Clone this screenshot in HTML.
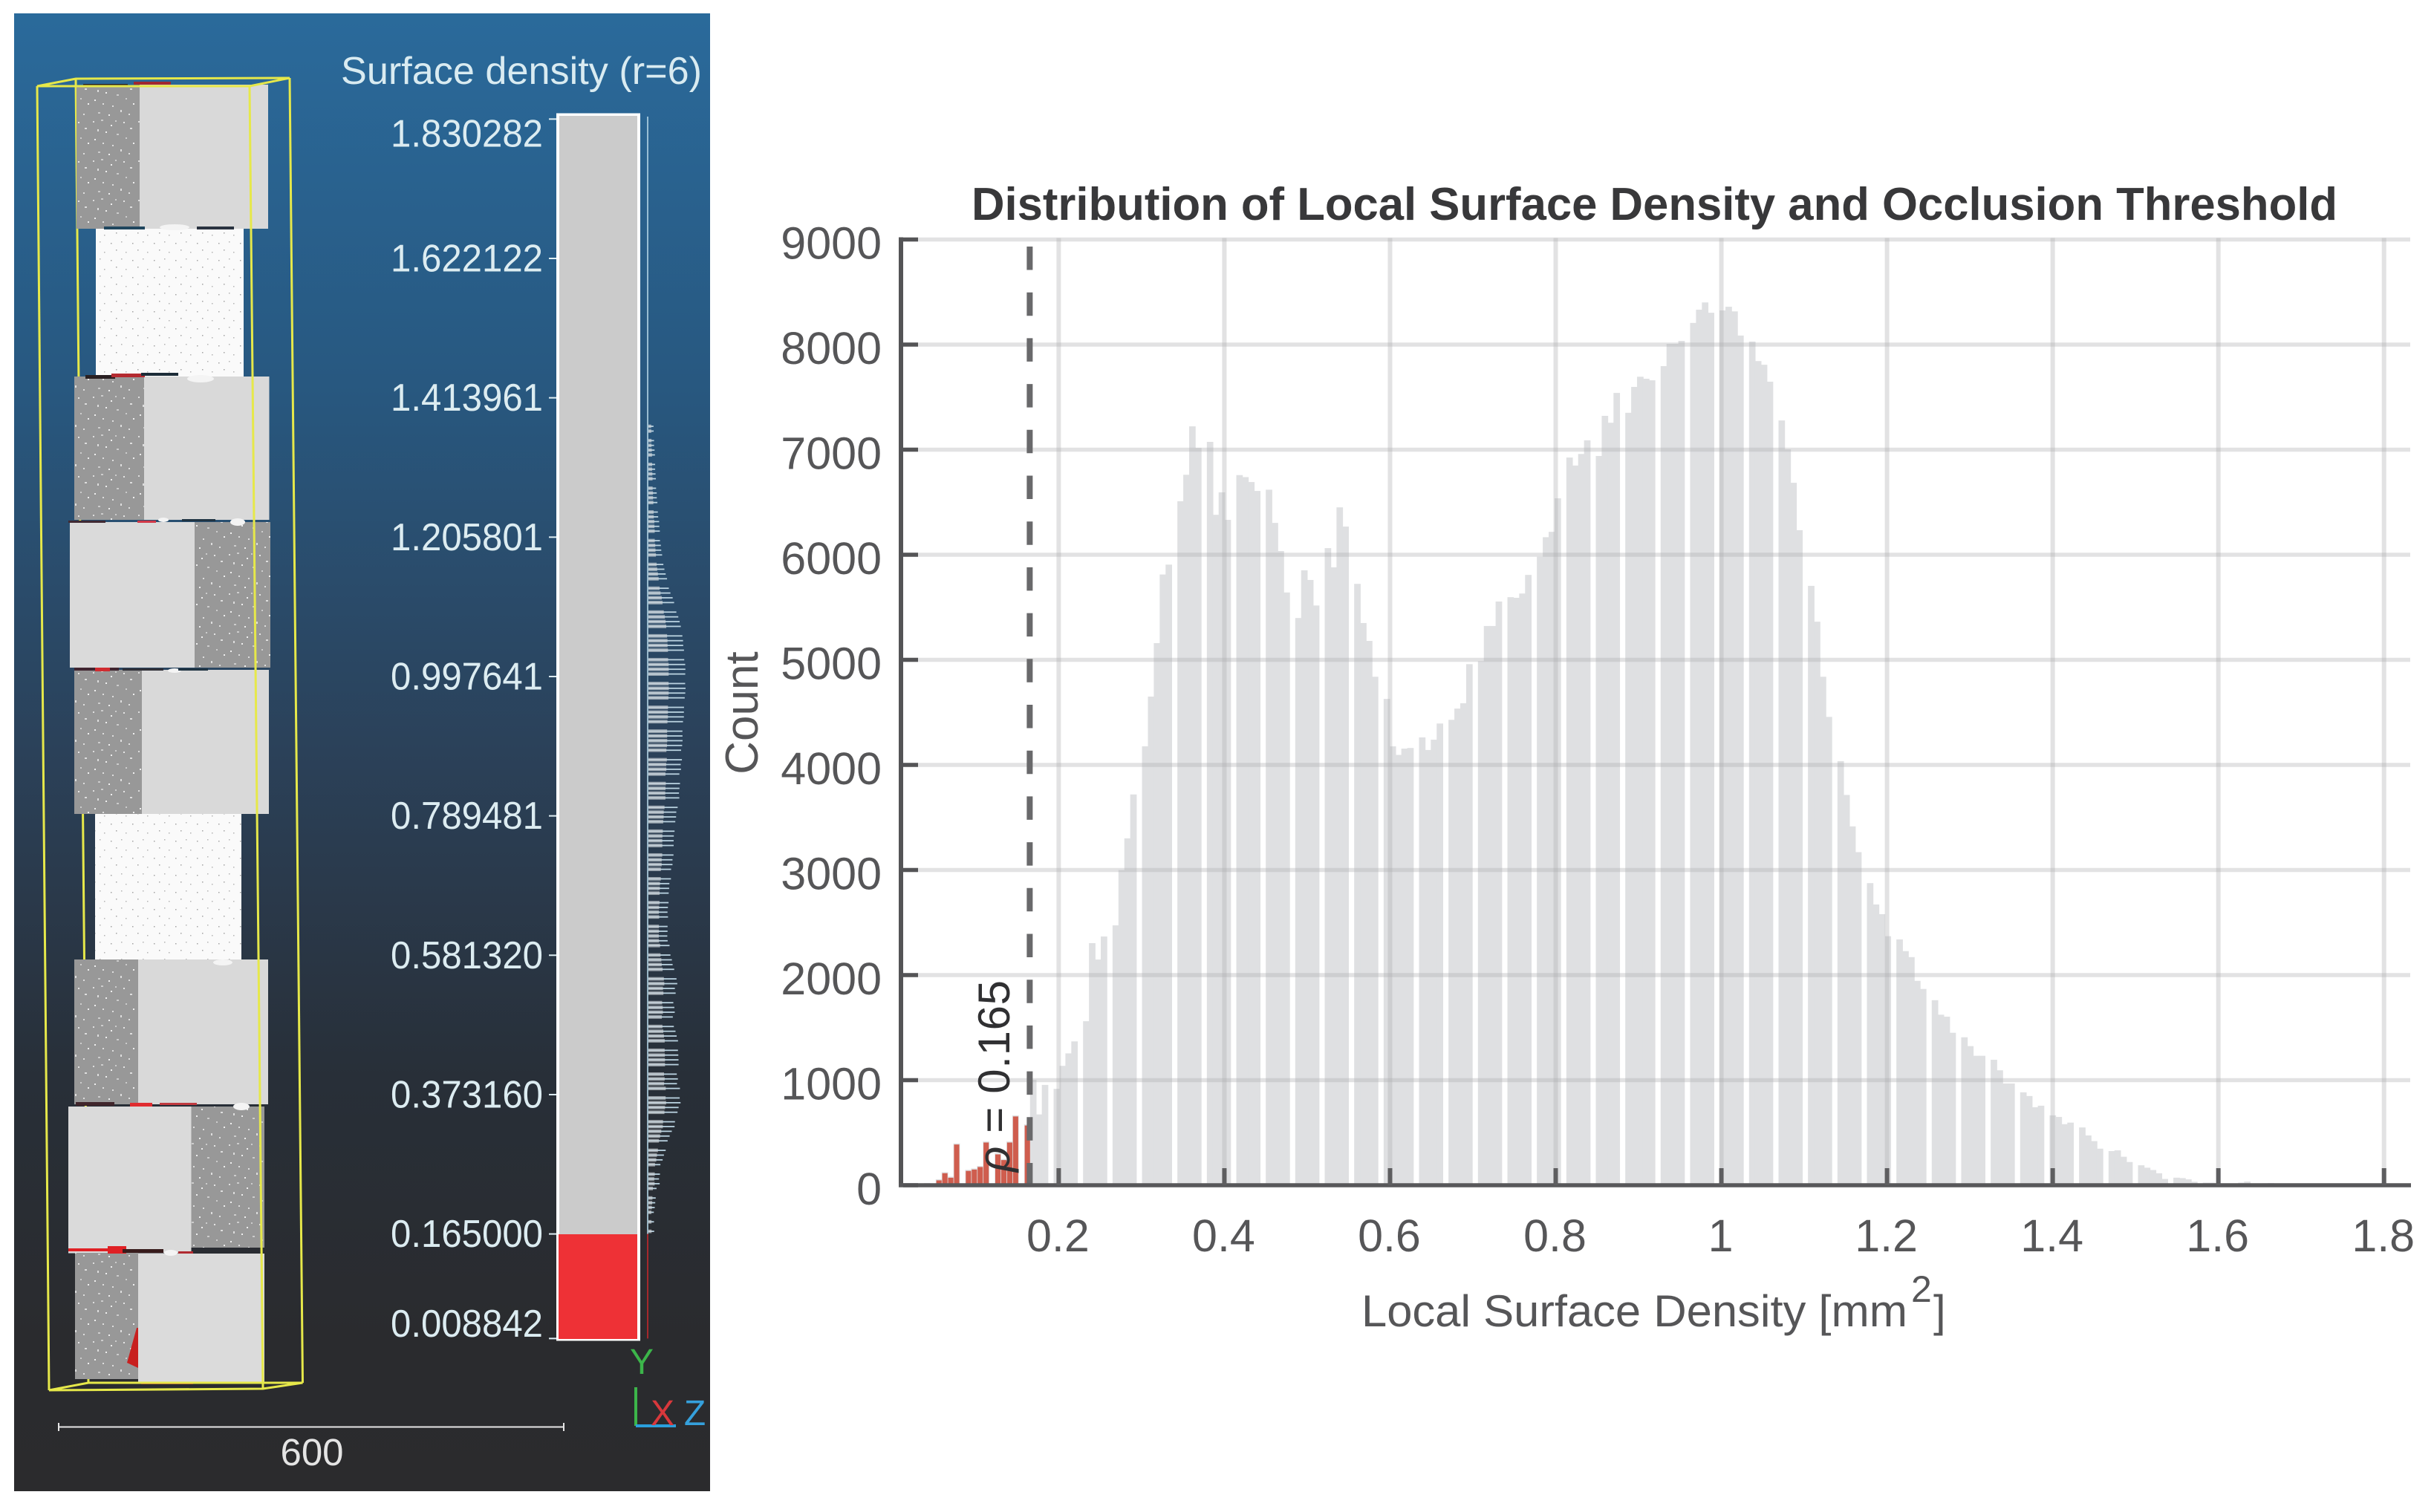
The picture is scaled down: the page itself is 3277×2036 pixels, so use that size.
<!DOCTYPE html>
<html lang="en">
<head>
<meta charset="utf-8">
<title>Surface density and occlusion threshold</title>
<style>
html,body{margin:0;padding:0;background:#fff;}
svg{display:block;}
text{font-family:"Liberation Sans",sans-serif;}
</style>
</head>
<body>
<svg id="fig" xmlns="http://www.w3.org/2000/svg" width="3277" height="2036" viewBox="0 0 3277 2036">
<defs>
<linearGradient id="bg" gradientUnits="userSpaceOnUse" x1="0" y1="18" x2="0" y2="2008">
<stop offset="0" stop-color="#2a6a9b"/>
<stop offset="0.25" stop-color="#285880"/>
<stop offset="0.5" stop-color="#2b4159"/>
<stop offset="0.72" stop-color="#282f38"/>
<stop offset="0.9" stop-color="#2a2b2e"/>
<stop offset="1" stop-color="#2b2b2d"/>
</linearGradient>
<pattern id="speck" width="61" height="53" patternUnits="userSpaceOnUse">
<rect width="61" height="53" fill="#989898"/>
<rect x="3" y="4" width="2" height="2" fill="#ddd"/><rect x="14" y="2" width="3" height="2" fill="#ccc"/>
<rect x="27" y="9" width="2" height="2" fill="#eee"/><rect x="9" y="15" width="2" height="3" fill="#ddd"/>
<rect x="20" y="18" width="2" height="2" fill="#eee"/><rect x="35" y="21" width="3" height="2" fill="#ccc"/>
<rect x="5" y="28" width="2" height="2" fill="#eee"/><rect x="16" y="33" width="2" height="2" fill="#ddd"/>
<rect x="29" y="36" width="2" height="2" fill="#ddd"/><rect x="44" y="5" width="2" height="2" fill="#e4e4e4"/>
<rect x="53" y="13" width="3" height="2" fill="#ddd"/><rect x="47" y="26" width="2" height="2" fill="#ccc"/>
<rect x="57" y="33" width="2" height="2" fill="#eee"/><rect x="40" y="42" width="2" height="3" fill="#ddd"/>
<rect x="10" y="45" width="3" height="2" fill="#ccc"/><rect x="24" y="48" width="2" height="2" fill="#eee"/>
<rect x="51" y="47" width="2" height="2" fill="#ddd"/><rect x="33" y="3" width="2" height="2" fill="#ccc"/>
</pattern>
<pattern id="speckw" width="29" height="23" patternUnits="userSpaceOnUse">
<rect width="29" height="23" fill="#fafafa"/>
<rect x="4" y="5" width="1.500" height="1.500" fill="#a4a4a4"/><rect x="18" y="3" width="1.500" height="1.500" fill="#b4b4b4"/>
<rect x="11" y="14" width="1.500" height="1.500" fill="#a4a4a4"/><rect x="24" y="17" width="1.500" height="1.500" fill="#b4b4b4"/>
</pattern>
</defs>

<g>
<rect x="19" y="18" width="937" height="1990" fill="url(#bg)"/>

<g fill="none" stroke="#e6e84a" stroke-width="3">
<line x1="50" y1="116" x2="66" y2="1872"/>
<line x1="390" y1="105" x2="407.500" y2="1862"/>
<line x1="102" y1="106" x2="119" y2="1862"/>
</g>

<g>
<rect x="103" y="116" width="86" height="192" fill="url(#speck)"/>
<rect x="188" y="114" width="173" height="194" fill="#d9d9d9"/>
<rect x="129" y="308" width="199" height="202" fill="url(#speckw)"/>
<rect x="100" y="507" width="94" height="193" fill="url(#speck)"/>
<rect x="194" y="507" width="168.500" height="193" fill="#d9d9d9"/>
<rect x="94" y="703" width="168" height="196" fill="#dadada"/>
<rect x="262" y="703" width="102" height="196" fill="url(#speck)"/>
<rect x="100" y="902" width="91" height="194" fill="url(#speck)"/>
<rect x="191" y="902" width="171" height="194" fill="#d9d9d9"/>
<rect x="128" y="1096" width="197" height="199" fill="url(#speckw)"/>
<rect x="100" y="1292" width="86" height="195" fill="url(#speck)"/>
<rect x="186" y="1292" width="175" height="195" fill="#d9d9d9"/>
<rect x="92" y="1490" width="165.500" height="197.500" fill="#dadada"/>
<rect x="257.500" y="1490" width="98.500" height="190" fill="url(#speck)"/>
<rect x="101" y="1687" width="85" height="170" fill="url(#speck)"/>
<rect x="186" y="1688" width="170" height="175" fill="#dbdbdb"/>
<polygon points="184,1788 186,1788 186,1842 171,1835" fill="#c8201f"/>
<g fill="#f4f4f4">
<ellipse cx="235" cy="306" rx="20" ry="4"/><ellipse cx="270" cy="510" rx="18" ry="5"/>
<ellipse cx="320" cy="703" rx="10" ry="5"/><ellipse cx="220" cy="700" rx="7" ry="3"/>
<ellipse cx="235" cy="903" rx="9" ry="3"/><ellipse cx="300" cy="1296" rx="13" ry="4"/>
<ellipse cx="325" cy="1490" rx="11" ry="5"/><ellipse cx="230" cy="1687" rx="9" ry="4"/>
</g>
<g>
<rect x="112" y="113" width="60" height="4" fill="#2a2022"/><rect x="180" y="110" width="50" height="4" fill="#a02830"/>
<rect x="140" y="305" width="55" height="4" fill="#20465e"/><rect x="265" y="305" width="50" height="4" fill="#2a3340"/>
<rect x="115" y="505" width="40" height="5" fill="#2a2022"/><rect x="150" y="503" width="45" height="5" fill="#b42a30"/><rect x="190" y="502" width="50" height="4" fill="#1c2c38"/>
<rect x="92" y="701" width="50" height="3" fill="#402a33"/><rect x="185" y="701" width="25" height="3" fill="#d03848"/><rect x="245" y="699" width="45" height="3" fill="#1f3342"/>
<rect x="100" y="899" width="60" height="4" fill="#402530"/><rect x="128" y="899" width="20" height="5" fill="#d02b30"/><rect x="165" y="900" width="55" height="3" fill="#303038"/><rect x="240" y="900" width="40" height="3" fill="#1f3342"/>
<rect x="102" y="1484" width="52" height="5" fill="#40252b"/><rect x="175" y="1485" width="30" height="5" fill="#e02c30"/><rect x="215" y="1485" width="50" height="3" fill="#c03a40"/>
<rect x="92" y="1681" width="75" height="4" fill="#e02024"/><rect x="145" y="1678" width="25" height="10" fill="#e02024"/><rect x="165" y="1682" width="55" height="5" fill="#381c1c"/><rect x="240" y="1685" width="20" height="3" fill="#b02a30"/>
<rect x="190" y="1861" width="70" height="3" fill="#a01c1c"/>
</g>
</g>

<g fill="none" stroke="#e6e84a" stroke-width="3">
<polygon points="50,116 102,106 390,105 336,116"/>
<line x1="336" y1="116" x2="354" y2="1870"/>
<polygon points="66,1872 119,1862 407.500,1862 354,1870"/>
</g>

<text x="459" y="113" font-size="52" fill="#d9ebf1" textLength="486" lengthAdjust="spacingAndGlyphs">Surface density (r=6)</text>
<g id="colorbar-ticks"></g>

<rect x="749" y="152.500" width="113" height="1653" fill="#fff"/>
<rect x="753" y="156" width="105" height="1506" fill="#cbcbcb"/>
<rect id="colorbar-red" x="752" y="1662" width="106" height="141" fill="#ee3136"/>

<g id="side-histogram"></g>

<g stroke="#e6e6e6" stroke-width="2">
<line x1="79" y1="1921.500" x2="759" y2="1921.500"/>
<line x1="79" y1="1916" x2="79" y2="1927"/>
<line x1="759" y1="1916" x2="759" y2="1927"/>
</g>
<text x="420" y="1973" font-size="51" fill="#e4e4e4" text-anchor="middle">600</text>

<g>
<rect x="854" y="1868" width="4" height="52" fill="#3cb54a"/>
<rect x="856" y="1918" width="54" height="4" fill="#2a9fdc"/>
<text x="864" y="1850" font-size="48" fill="#3cb54a" text-anchor="middle">Y</text>
<text x="892" y="1919" font-size="48" fill="#d8383c" text-anchor="middle">X</text>
<text x="935.500" y="1919" font-size="48" fill="#35a0dc" text-anchor="middle">Z</text>
</g>
</g>

<g>
<text x="1308" y="296" font-size="62" font-weight="700" fill="#38383a" textLength="1839" lengthAdjust="spacingAndGlyphs">Distribution of Local Surface Density and Occlusion Threshold</text>
<g id="bars"></g>
<g id="red-bars"></g>
<g id="grid"></g>
<line id="threshold" stroke="#69696b" stroke-width="8" stroke-dasharray="31.500 30.200"/>
<g id="axes"></g>
<text id="rho" font-size="60" fill="#303032" textLength="258" lengthAdjust="spacing"><tspan font-style="italic">ρ</tspan> = 0.165</text>
<text transform="translate(1020,960) rotate(-90)" font-size="62" fill="#565658" text-anchor="middle">Count</text>
<text x="1833" y="1786" font-size="60" fill="#565658" textLength="735" lengthAdjust="spacingAndGlyphs">Local Surface Density [mm</text>
<text x="2573" y="1753" font-size="50" fill="#565658">2</text>
<text x="2603" y="1786" font-size="60" fill="#565658">]</text>
</g>
</svg>

<script>
const binCounts = [
5,8,12,18,20,0,
57,125,82,398,0,
147,160,184,417,0,
304,250,417,665,0,
579,1004,674,955,0,
917,1136,1255,1369,0,
1561,2304,2148,2367,0,
2473,2999,3301,3719,0,
4177,4650,5159,5812,5906,0,
6509,6761,7222,7017,0,
7074,6380,6594,6332,0,
6758,6739,6692,6607,0,
6619,6303,6035,5641,0,
5398,5852,5760,5517,0,
6063,5880,6451,6268,0,
5723,5350,5180,4839,0,
4628,4177,4095,4155,4161,0,
4262,4142,4240,4394,0,
4429,4536,4587,4959,0,
4987,5322,5322,5555,0,
5596,5590,5631,5808,0,
5981,6167,6218,6537,0,
6925,6849,6959,7089,0,
6940,7322,7256,7540,0,
7351,7597,7694,7675,7660,0,
7795,8007,8007,8035,0,
8206,8332,8401,8303,0,
8325,8360,8316,8086,0,
8029,7843,7808,7647,0,
7278,7003,6685,6234,0,
5704,5363,4839,4457,0,
4036,3714,3415,3170,0,
2875,2672,2580,2370,0,
2339,2228,2171,1945,1868,0,
1761,1623,1604,1451,0,
1408,1324,1232,1232,0,
1194,1094,968,968,0,
884,849,742,757,0,
665,650,581,596,0,
550,474,420,348,0,
325,332,271,221,0,
190,167,145,114,60,0,
72,68,56,33,0,
25,25,20,15,0,
15,25,35,10,0,
18,20,18,12,0,
8,8,12,14,0,
6,8,5,4,0,
4,3,5,3,0,
3,2,3,2,2
];
const densityMin = 0.008842;
const densityMax = 1.830282;
const thresholdValue = 0.165;
const yTickValues = [0,1000,2000,3000,4000,5000,6000,7000,8000,9000];
const xTickValues = [0.2,0.4,0.6,0.8,1,1.2,1.4,1.6,1.8];
const xTickLabels = ['0.2','0.4','0.6','0.8','1','1.2','1.4','1.6','1.8'];
const scaleValues = [1.830282,1.622122,1.413961,1.205801,0.997641,0.789481,0.581320,0.373160,0.165000,0.008842];
const scaleLabels = ['1.830282','1.622122','1.413961','1.205801','0.997641','0.789481','0.581320','0.373160','0.165000','0.008842'];

const NS = 'http://www.w3.org/2000/svg';
const binWidth = (densityMax - densityMin) / binCounts.length;
function xScale(v){ return 1425.4 + (v - 0.2) * 1115.2; }
function yScale(c){ return 1596 - c * 0.1415; }
function barScaleY(v){ return 1661.6 - (v - 0.165) * 901.5; }
function make(parent, tag, attrs){
  const el = document.createElementNS(NS, tag);
  for (const k in attrs) el.setAttribute(k, attrs[k]);
  parent.appendChild(el);
  return el;
}

const barsG = document.getElementById('bars');
const redG = document.getElementById('red-bars');
const sideG = document.getElementById('side-histogram');
const sideBase = make(sideG, 'line', {x1:872, x2:872, y1:157, y2:barScaleY(thresholdValue), stroke:'#b5d6e6', 'stroke-width':1.6});


const sideBaseRed = make(sideG, 'line', {x1:872, x2:872, y1:barScaleY(thresholdValue), y2:barScaleY(densityMin), stroke:'#c4282c', 'stroke-width':1.6});



binCounts.forEach(function(count, i){
  const edge = densityMin + i * binWidth;
  const x = xScale(edge);
  const w = xScale(edge + binWidth) - x;
  const y = yScale(count);
  const isRed = edge + binWidth / 2 < thresholdValue;
  const bar = make(barsG, 'rect', {x:x, y:y, width:w + 0.8, height:Math.max(0, 1596 - y), fill:'#dfe0e2'});
  
  
  if (isRed) {
    const red = make(redG, 'rect', {x:x + 0.8, y:y + 1.5, width:w - 0.8, height:Math.max(0, 1596 - y - 1.5), fill:'#cf5d4e'});
    
    
  }
  const sideLen = count / 8400 * 48 + 2;
  if (count >= 840) {
    const sy = barScaleY(edge + binWidth / 2);
    const sideBar = make(sideG, 'rect', {x:873, y:sy - 0.9, width:sideLen, height:1.8, fill:isRed ? '#c4282c' : '#b9d2e0'});
    
    
    const sideCore = make(sideG, 'rect', {x:873, y:sy - 2.4, width:sideLen * 0.55, height:4.8, fill:isRed ? '#c4282c' : '#cfd6da', opacity:0.65});
    
    
  }
});

const gridG = document.getElementById('grid');
yTickValues.forEach(function(v){
  if (v === 0) return;
  const g = make(gridG, 'line', {x1:1216, x2:3245, y1:yScale(v), y2:yScale(v), stroke:'#ababad', 'stroke-opacity':0.344, 'stroke-width':5.5});
  
  
});
xTickValues.forEach(function(v){
  const g = make(gridG, 'line', {x1:xScale(v), x2:xScale(v), y1:yScale(9000) - 2, y2:1596, stroke:'#ababad', 'stroke-opacity':0.344, 'stroke-width':6});
  
  
});

const th = document.getElementById('threshold');
th.setAttribute('x1', xScale(thresholdValue));
th.setAttribute('x2', xScale(thresholdValue));
th.setAttribute('y1', 332);
th.setAttribute('y2', 1596);

const axesG = document.getElementById('axes');
const yAxis = make(axesG, 'line', {x1:1213, x2:1213, y1:yScale(9000) - 3, y2:1598.5, stroke:'#545456', 'stroke-width':6});


const xAxis = make(axesG, 'line', {x1:1210, x2:3246, y1:1596, y2:1596, stroke:'#58585a', 'stroke-width':5.5});



yTickValues.forEach(function(v){
  const y = yScale(v);
  const tick = make(axesG, 'line', {x1:1216, x2:1236, y1:y, y2:y, stroke:'#545456', 'stroke-width':5.5});
  
  
  const label = make(axesG, 'text', {x:1187, y:y + 26, 'font-size':61, fill:'#565658', 'text-anchor':'end'});
  label.textContent = String(v);
  
  
});
xTickValues.forEach(function(v, i){
  const x = xScale(v);
  const tick = make(axesG, 'line', {x1:x, x2:x, y1:1573, y2:1596, stroke:'#5e5e60', 'stroke-width':6});
  
  
  const label = make(axesG, 'text', {x:x - 1, y:1685, 'font-size':61, fill:'#565658', 'text-anchor':'middle'});
  label.textContent = xTickLabels[i];
  
  
});

const rho = document.getElementById('rho');
rho.setAttribute('transform', 'translate(' + (xScale(thresholdValue) - 27.5) + ',1578) rotate(-90)');

const ticksG = document.getElementById('colorbar-ticks');
scaleValues.forEach(function(v, i){
  const y = barScaleY(v);
  const tick = make(ticksG, 'line', {x1:739, x2:749, y1:y, y2:y, stroke:'#dfeef3', 'stroke-width':2});
  
  
  const first = i === 0;
  const last = i === scaleValues.length - 1;
  const labelY = first ? 197.6 : (last ? y - 2.5 : y + 17.5);
  const label = make(ticksG, 'text', {x:526, y:labelY, 'font-size':52, fill:'#dcecf1', textLength:205, lengthAdjust:'spacingAndGlyphs'});
  label.textContent = scaleLabels[i];
  
  
});
</script>
</body>
</html>
